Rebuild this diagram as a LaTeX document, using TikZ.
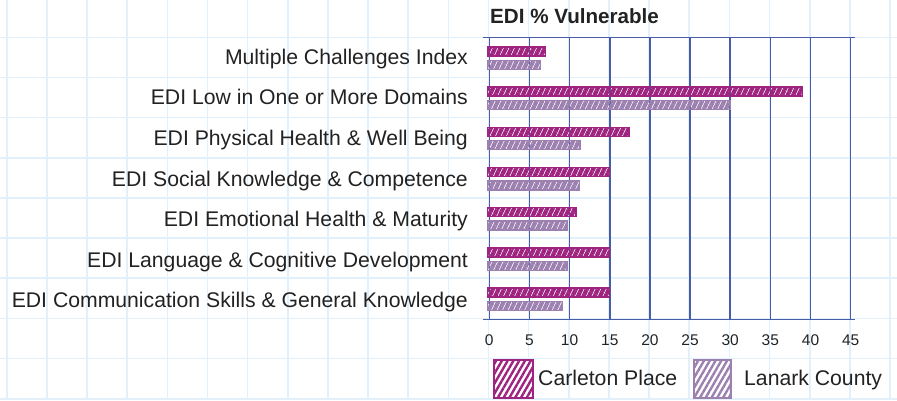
\documentclass[tikz,border=0pt]{standalone}
\usepackage{fontspec}
\setmainfont{Liberation Sans}
\usetikzlibrary{patterns.meta}
\definecolor{cp}{RGB}{158,36,128}
\definecolor{lc}{RGB}{156,128,176}
\definecolor{axisblue}{RGB}{72,92,168}
\definecolor{gridbg}{RGB}{226,240,252}
\definecolor{ink}{RGB}{34,34,34}
\begin{document}
\begin{tikzpicture}[x=1pt,y=-1pt,
  lab/.style={anchor=base east, font=\fontsize{21.2}{24}\selectfont, text=ink, inner sep=0pt},
  ticklab/.style={anchor=base, font=\fontsize{15.5}{18}\selectfont, text=ink, inner sep=0pt},
  leglab/.style={anchor=base west, font=\fontsize{21.2}{24}\selectfont, text=ink, inner sep=0pt},
  titlelab/.style={anchor=base west, font=\bfseries\fontsize{20.6}{24}\selectfont, text=ink, inner sep=0pt},
  gridline/.style={gridbg, line width=1.6pt},
  axisline/.style={axisblue, line width=1.5pt},
  cpbar/.style={pattern={Lines[angle=65,distance=5pt,line width=4.2pt]}, pattern color=cp, draw=cp, line width=1.4pt},
  lcbar/.style={pattern={Lines[angle=65,distance=5pt,line width=4.2pt]}, pattern color=lc, draw=lc, line width=1.4pt},
  cpswatch/.style={pattern={Lines[angle=60,distance=5pt,line width=2.4pt]}, pattern color=cp, draw=cp, line width=2pt},
  lcswatch/.style={pattern={Lines[angle=60,distance=5pt,line width=2.4pt]}, pattern color=lc, draw=lc, line width=2pt}]
\useasboundingbox (0,0) rectangle (897,400);
\fill[white] (0,0) rectangle (897,400);
% background grid
\foreach \i in {0,...,22} \draw[gridline] ({6.7+40.15*\i},0) -- ({6.7+40.15*\i},400);
\foreach \j in {1,...,10} \draw[gridline] (0,{-2.8+40.15*\j}) -- (897,{-2.8+40.15*\j});
% title
\node[titlelab] (title) at (490,23.5) {EDI \% Vulnerable};
% category labels
\node[lab] (l1) at (468,64.3) {Multiple Challenges Index};
\node[lab] (l2) at (468,104.9) {EDI Low in One or More Domains};
\node[lab] (l3) at (468,145.4) {EDI Physical Health \& Well Being};
\node[lab] (l4) at (468,186.0) {EDI Social Knowledge \& Competence};
\node[lab] (l5) at (468,226.5) {EDI Emotional Health \& Maturity};
\node[lab] (l6) at (468,267.0) {EDI Language \& Cognitive Development};
\node[lab] (l7) at (468,307.6) {EDI Communication Skills \& General Knowledge};
% plot area
\begin{scope}[shift={(489.3pt,0pt)}, x=8.03pt, y=-1pt]
  \foreach \v in {0,5,...,45} {
    \draw[axisline] (\v,37.7) -- (\v,319.3);
    \node[ticklab] (t\v) at (\v,345.5) {\v};
  }
  \draw[axisline] (-0.8,37.7) -- (45.5,37.7);
  \draw[axisline] (-0.8,319.3) -- (45.5,319.3);
  \foreach \r/\a/\b in {1/7/6.4, 2/39/30, 3/17.4/11.3, 4/15/11.2, 5/10.8/9.7, 6/15/9.7, 7/15/9.1} {
    \pgfmathsetmacro{\c}{57.8+40.2*(\r-1)}
    \draw[cpbar] (-0.2,\c-11) rectangle (\a,\c-2);
    \draw[lcbar] (-0.2,\c+2.5) rectangle (\b,\c+11.5);
  }
\end{scope}
% legend
\draw[cpswatch] (494,360) rectangle (533,398);
\node[leglab] (leg1) at (538,385.5) {Carleton Place};
\draw[lcswatch] (694,360) rectangle (731,398);
\node[leglab] (leg2) at (744,385.5) {Lanark County};
\end{tikzpicture}
\end{document}
